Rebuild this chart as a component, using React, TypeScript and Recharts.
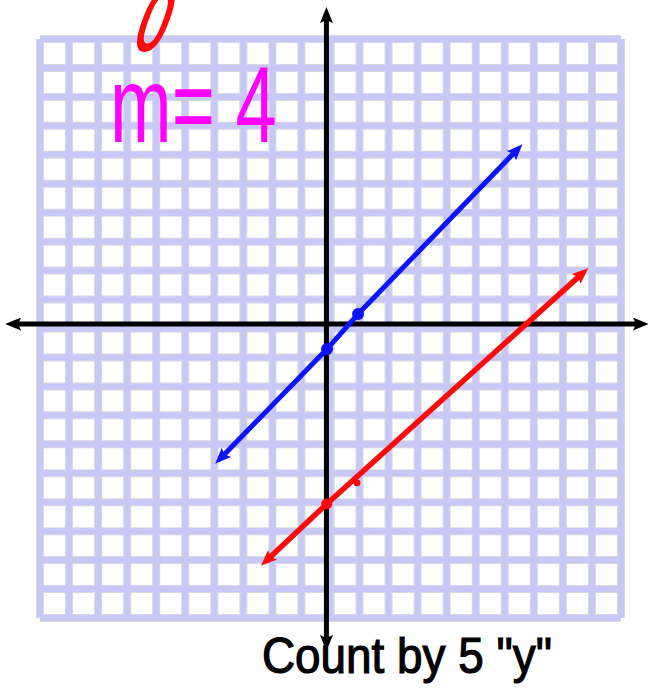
import React from "react";
import { ComposedChart, Line, Scatter, XAxis, YAxis, ReferenceLine } from "recharts";

// grid lines (graph-paper units)
const gridTicks = [-10, -9, -8, -7, -6, -5, -4, -3, -2, -1, 0, 1, 2, 3, 4, 5, 6, 7, 8, 9, 10];

// hand-drawn axes
const vAxis = [
  { x: -0.14, y: -10.9 },
  { x: -0.14, y: 10.86 },
];
const hAxis = [
  { x: -10.96, y: 0.155 },
  { x: 10.72, y: 0.155 },
];

// blue line and its points
const blueLine = [
  { x: -3.8, y: -4.5 },
  { x: -0.12, y: -0.71 },
  { x: 0.95, y: 0.5 },
  { x: 6.44, y: 6.19 },
];
const blueDots = [
  { x: -0.12, y: -0.71 },
  { x: 0.95, y: 0.5 },
];

// red line and its points
const redLine = [
  { x: -2.22, y: -8.03 },
  { x: -0.13, y: -6.06 },
  { x: 8.69, y: 1.92 },
];
const redDots = [{ x: -0.13, y: -6.06 }];
const redTick = [{ x: 0.91, y: -5.33 }];

// annotations
const slopeText = "m= 4";
const noteText = "Count by 5 \"y\"";
const topScribble = "0";

const W = 648;
const H = 699;
const GRID = "#c8c8f7";
const GRID_EDGE = "#d8d8e0";

const dot = (r: number, color: string) => (p: any) =>
  <circle cx={p.cx} cy={p.cy} r={r} fill={color} />;

const marker = (id: string, color: string) => (
  <marker
    id={id}
    viewBox="0 0 16 13"
    refX={9}
    refY={6.5}
    markerWidth={16}
    markerHeight={13}
    markerUnits="userSpaceOnUse"
    orient="auto-start-reverse"
  >
    <path d="M0,0 L16,6.5 L0,13 L3,6.5 Z" fill={color} />
  </marker>
);

export default function App() {
  return (
    <div style={{ position: "absolute", left: 0, top: 0, width: W, height: H, background: "#fff" }}>
      <ComposedChart width={W} height={H} margin={{ top: 0, right: 0, bottom: 0, left: 0 }}>
        <defs>
          {marker("arrBlack", "#000")}
          {marker("arrBlue", "#0a14ff")}
          {marker("arrRed", "#ff0a0a")}
        </defs>
        <XAxis type="number" dataKey="x" domain={[-11.377, 10.93]} allowDataOverflow hide />
        <YAxis type="number" dataKey="y" domain={[-12.798, 11.347]} allowDataOverflow hide />
        {gridTicks.map((t) => (
          <ReferenceLine key={"ge-v" + t} segment={[{ x: t, y: -10 }, { x: t, y: 10 }]} stroke={GRID_EDGE} strokeWidth={8} ifOverflow="visible" />
        ))}
        {gridTicks.map((t) => (
          <ReferenceLine key={"ge-h" + t} segment={[{ x: -10, y: t }, { x: 10, y: t }]} stroke={GRID_EDGE} strokeWidth={8} ifOverflow="visible" />
        ))}
        {gridTicks.map((t) => (
          <ReferenceLine key={"g-v" + t} segment={[{ x: t, y: -10 }, { x: t, y: 10 }]} stroke={GRID} strokeWidth={6} ifOverflow="visible" />
        ))}
        {gridTicks.map((t) => (
          <ReferenceLine key={"g-h" + t} segment={[{ x: -10, y: t }, { x: 10, y: t }]} stroke={GRID} strokeWidth={6} ifOverflow="visible" />
        ))}
        <Line data={vAxis} dataKey="y" type="linear" stroke="#000" strokeWidth={5} dot={false} activeDot={false} markerStart="url(#arrBlack)" markerEnd="url(#arrBlack)" isAnimationActive={false} />
        <Line data={hAxis} dataKey="y" type="linear" stroke="#000" strokeWidth={5} dot={false} activeDot={false} markerStart="url(#arrBlack)" markerEnd="url(#arrBlack)" isAnimationActive={false} />
        <Line data={blueLine} dataKey="y" type="linear" stroke="#0a14ff" strokeWidth={5} dot={false} activeDot={false} markerStart="url(#arrBlue)" markerEnd="url(#arrBlue)" isAnimationActive={false} />
        <Line data={redLine} dataKey="y" type="linear" stroke="#ff0a0a" strokeWidth={5.5} dot={false} activeDot={false} markerStart="url(#arrRed)" markerEnd="url(#arrRed)" isAnimationActive={false} />
        <Scatter data={blueDots} dataKey="y" shape={dot(6, "#0a14ff")} isAnimationActive={false} />
        <Scatter data={redDots} dataKey="y" shape={dot(5.5, "#ff0a0a")} isAnimationActive={false} />
        <Scatter data={redTick} dataKey="y" shape={dot(3.5, "#ff0a0a")} isAnimationActive={false} />
      </ComposedChart>
      <svg width={W} height={H} style={{ position: "absolute", left: 0, top: 0, pointerEvents: "none" }}>
        <g transform="translate(130,50) skewX(-20) scale(1,1.6)">
          <text x={0} y={0} fontFamily="Liberation Sans" fontSize={54} fill="#ff0a0a" stroke="#ff0a0a" strokeWidth={1.5}>
            {topScribble}
          </text>
        </g>
        <g transform="translate(110,142) scale(1,1.45)">
          <text x={0} y={0} fontFamily="Liberation Sans" fontSize={74} fill="#ff00ff">
            {slopeText}
          </text>
        </g>
        <text x={262} y={673} fontFamily="Liberation Sans" fontSize={50} fill="#000" stroke="#000" strokeWidth={1.2} textLength={290} lengthAdjust="spacingAndGlyphs">
          {noteText}
        </text>
      </svg>
    </div>
  );
}
